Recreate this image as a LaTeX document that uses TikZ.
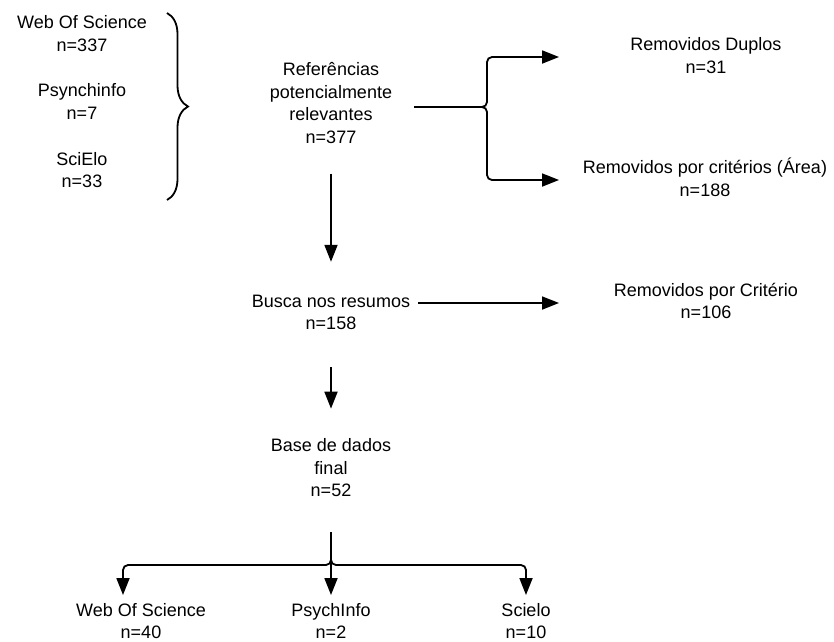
\documentclass[tikz,border=0pt]{standalone}
\usepackage{fontspec}
\setmainfont{Liberation Sans}
\usepackage{tikz}
\usetikzlibrary{arrows.meta,positioning,calc,decorations.pathreplacing}
\tikzstyle{Stage} = [text centered, align=center, inner sep=2pt]
\tikzset{
    conn/.style={
        line width=1.8pt,
        rounded corners=5pt,
    },
        arr/.style={
        conn,
        -{Triangle[length=17pt,width=13pt]},
    },
        curly/.style={
        line width=1.8pt,
        decorate,
        decoration={brace,amplitude=21pt},
    },
}

\begin{document}
\begin{tikzpicture}[
    x=1pt,
    y=-1pt,
    on grid,
    font=\fontsize{18}{22.5}\selectfont]

\useasboundingbox (0,0) rectangle (834,641);

% Sources
\node
[
    Stage
] (src_wos) at (82,33.5)
{
    Web Of Science \\
    n=337
};
\node
[
    Stage
] (src_psy) [below=68pt of src_wos]
{
    Psynchinfo \\
    n=7
};
\node
[
    Stage
] (src_sci) [below=68.5pt of src_psy]
{
    SciElo \\
    n=33
};
% n=377
\node
[
    Stage
] (ref) at (331,103)
{
    Referências \\
    potencialmente \\
    relevantes \\
    n=377
};
% Removed
\node
[
    Stage
] (dup) [above right=47.5pt and 375pt of ref]
{
    Removidos Duplos \\
    n=31
};
\node
[
    Stage
] (area) [below right=74.5pt and 374pt of ref]
{
    Removidos por critérios (Área) \\
    n=188
};
% n=158
\node
[
    Stage
] (busca) [below=209.5pt of ref]
{
    Busca nos resumos \\
    n=158
};
\node
[
    Stage
] (crit) [above right=11.5pt and 375pt of busca]
{
    Removidos por Critério \\
    n=106
};
% n=52
\node
[
    Stage
] (base) [below=155.5pt of busca]
{
    Base de dados \\
    final \\
    n=52
};
% Final split
\node
[
    Stage
] (psy_f) [below=153pt of base]
{
    PsychInfo \\
    n=2
};
\node
[
    Stage
] (wos_f) [left=190pt of psy_f]
{
    Web Of Science \\
    n=40
};
\node
[
    Stage
] (sci_f) [right=195pt of psy_f]
{
    Scielo \\
    n=10
};

% Junctions and arrow ends
\coordinate (br_top) at (167,13);
\coordinate (br_bot) at (167,200);
\coordinate (split1) at (482,107);
\coordinate (dup_in) at (559,57);
\coordinate (area_in) at (559,180);
\coordinate (crit_in) at (559,303);
\coordinate (split2) at (331,560);
\coordinate (wos_in) at (123,595);
\coordinate (psy_in) at (331,595);
\coordinate (sci_in) at (526,595);

% Transitions
\draw [curly] (br_top) -- (br_bot);
\draw [conn] ([xshift=20pt]ref.east |- split1) -- (split1);
\draw [arr] (split1) -- ++(5,0) |- (dup_in);
\draw [arr] (split1) -- ++(5,0) |- (area_in);
\path [arr]
    (ref) edge [shorten <=28pt, shorten >=31pt] (busca)
    (busca) edge [shorten <=35pt, shorten >=28pt] (base);
\draw [arr] ([xshift=6pt]busca.east |- crit_in) -- (crit_in);
\draw [conn] ([yshift=-33pt]base.south) -- (split2);
\draw [arr] (split2) -- ++(0,5) -| (wos_in);
\draw [arr] (split2) -- ++(0,5) -| (sci_in);
\draw [arr] (split2) -- (psy_in);

\end{tikzpicture}
\end{document}
